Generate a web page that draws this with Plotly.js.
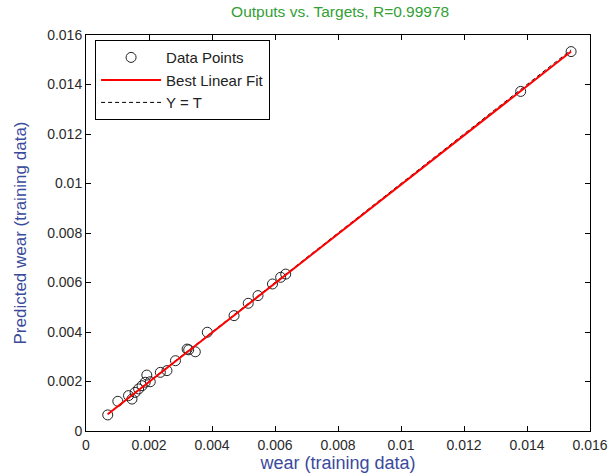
<!DOCTYPE html>
<html>
<head>
<meta charset="utf-8">
<script src="https://cdn.plot.ly/plotly-3.0.1.min.js"></script>
<style>html,body{margin:0;padding:0;background:#fff;}#chart{width:614px;height:475px;}</style>
</head>
<body>
<div id="chart"></div>
<script>
// Targets (x) and network outputs (y)
const targets = [0.00069, 0.00101, 0.00135, 0.00146, 0.00156, 0.00167, 0.00178, 0.00188, 0.00193, 0.00204,
                 0.00236, 0.00257, 0.00284, 0.00321, 0.00326, 0.00347, 0.00385, 0.00470, 0.00515, 0.00546,
                 0.00592, 0.00618, 0.00634, 0.01380, 0.01540];
const outputs = [0.00065, 0.00120, 0.00143, 0.00129, 0.00156, 0.00170, 0.00183, 0.00197, 0.00226, 0.00199,
                 0.00237, 0.00244, 0.00284, 0.00331, 0.00328, 0.00320, 0.00399, 0.00466, 0.00516, 0.00547,
                 0.00594, 0.00621, 0.00634, 0.01372, 0.01533];
// Best linear fit end points and Y = T line (over the data range)
const fitX = [0.00069, 0.01540];
const fitY = [0.00068, 0.01533];
const identX = [0.00069, 0.01540];
const identY = [0.00069, 0.01540];
const tickVals = [0, 0.002, 0.004, 0.006, 0.008, 0.01, 0.012, 0.014, 0.016];
const tickText = ["0", "0.002", "0.004", "0.006", "0.008", "0.01", "0.012", "0.014", "0.016"];

const FONT = 'Liberation Sans, Arial, sans-serif';

const traces = [
  {x: identX, y: identY, mode: 'lines', name: 'Y = T', legendrank: 3,
   line: {color: '#000', width: 1, dash: '4px,3px'}},
  {x: targets, y: outputs, mode: 'markers', name: 'Data Points', legendrank: 1,
   marker: {symbol: 'circle-open', size: 10, color: '#222', line: {width: 1, color: '#222'}}},
  {x: fitX, y: fitY, mode: 'lines', name: 'Best Linear Fit', legendrank: 2,
   line: {color: '#ff0000', width: 2}}
];

const axisCommon = {
  range: [0, 0.016], tickvals: tickVals, ticktext: tickText,
  ticks: 'inside', ticklen: 5, tickcolor: '#000', mirror: 'ticks',
  showline: true, linecolor: '#000', linewidth: 1, showgrid: false, zeroline: false,
  tickfont: {family: FONT, size: 14, color: '#2a2a2a'}
};

const layout = {
  width: 614, height: 475,
  margin: {l: 86, r: 24, t: 35, b: 44},
  paper_bgcolor: '#fff', plot_bgcolor: '#fff',
  showlegend: true,
  title: {text: 'Outputs vs. Targets, R=0.99978', x: 0.554, xanchor: 'center', y: 0.988, yanchor: 'top',
          font: {family: FONT, size: 15.5, color: '#33a033'}},
  xaxis: Object.assign({}, axisCommon, {
    ticklabelstandoff: 1,
    title: {text: 'wear (training data)', standoff: 2,
            font: {family: FONT, size: 18, color: '#3a4a9c'}}
  }),
  yaxis: Object.assign({}, axisCommon, {
    title: {text: 'Predicted wear (training data)', standoff: 16,
            font: {family: FONT, size: 17, color: '#3a4a9c'}}
  }),
  legend: {x: 0.018, y: 0.987, xanchor: 'left', yanchor: 'top',
           bordercolor: '#000', borderwidth: 1, bgcolor: '#fff',
           itemwidth: 60, tracegroupgap: 0,
           font: {family: FONT, size: 15, color: '#222'}}
};

Plotly.newPlot('chart', traces, layout, {displayModeBar: false, staticPlot: true});
</script>
</body>
</html>
